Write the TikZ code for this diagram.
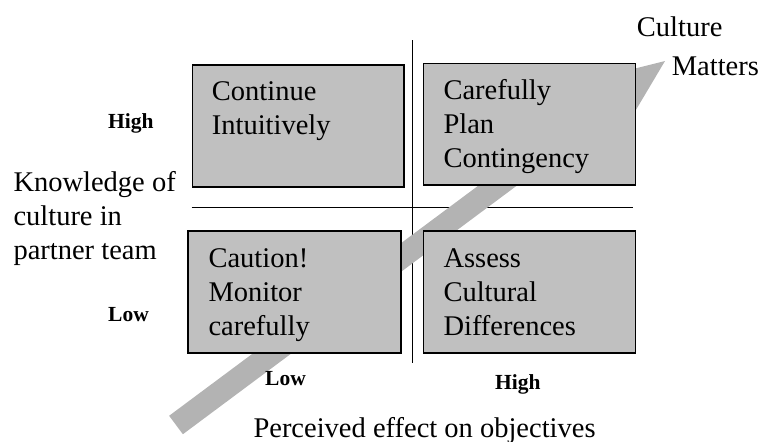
\documentclass[tikz,border=0pt]{standalone}
\usepackage{fontspec}
\setmainfont{Liberation Serif}
\usepackage{tikz}
\usetikzlibrary{positioning,calc}

\definecolor{boxgray}{HTML}{C0C0C0}
\definecolor{bandgray}{HTML}{B3B3B3}

\begin{document}
\begin{tikzpicture}[
        x=1pt, y=-1pt,
        quad/.style = {shape=rectangle, draw, fill=boxgray, line width=1.6pt,
                       anchor=north west, inner sep=0pt},
        quadtext/.style = {inner sep=0pt, anchor=north west, align=left,
                           font=\fontsize{28.5}{34}\selectfont},
        bigtext/.style = {inner sep=0pt, font=\fontsize{28.5}{34}\selectfont},
        level/.style = {inner sep=0pt, anchor=base west,
                        font=\fontsize{21.5}{24}\selectfont\bfseries},
        axis/.style = {line width=0.9pt}]
    \useasboundingbox (0,0) rectangle (761,442);

    \coordinate (vtop) at (412.7,40);
    \coordinate (vbot) at (412.7,363);
    \coordinate (hleft) at (191.7,207.7);
    \coordinate (hright) at (633,207.7);
    \draw[axis] (vtop) -- (vbot);
    \draw[axis] (hleft) -- (hright);

    % broad arrow running under the boxes
    \coordinate (tail) at (176,425);
    \coordinate (tip) at (665,61);
    \coordinate (neck) at ($(tip)!60pt!(tail)$);
    \fill[bandgray]
        ($(tail)!11.5pt!90:(tip)$)
        -- ($(neck)!11.5pt!-90:(tail)$)
        -- ($(neck)!25pt!-90:(tail)$)
        -- (tip)
        -- ($(neck)!25pt!90:(tail)$)
        -- ($(neck)!11.5pt!90:(tail)$)
        -- ($(tail)!11.5pt!-90:(tip)$)
        -- cycle;

    \node[quad, minimum width=211.6pt, minimum height=121.7pt] (tl) at (191.7,64.3) {};
    \node[quad, minimum width=212pt, minimum height=121.3pt] (tr) at (422.7,62.7) {};
    \node[quad, minimum width=212.7pt, minimum height=122pt] (bl) at (187.3,230) {};
    \node[quad, minimum width=212pt, minimum height=122pt] (br) at (422.7,230) {};

    \node[quadtext, below right=17pt and 20pt of tl.north west] (tltext) {Continue\\Intuitively};
    \node[quadtext, below right=16.5pt and 20.6pt of tr.north west] (trtext) {Carefully\\Plan\\Contingency};
    \node[quadtext, below right=18.5pt and 21pt of bl.north west] (bltext) {Caution!\\Monitor\\carefully};
    \node[quadtext, below right=18.5pt and 20.6pt of br.north west] (brtext) {Assess\\Cultural\\Differences};

    \node[level] (highy) at (108,128.3) {High};
    \node[level] (lowy) at (108,321) {Low};
    \node[level] (lowx) at (265,385) {Low};
    \node[level] (highx) at (495,389.3) {High};

    \node[bigtext, anchor=north west, align=left] (ylabel) at (13.3,171.2)
        {Knowledge of\\culture in\\partner team};
    \node[bigtext, anchor=base west] (xlabel) at (253.3,437) {Perceived effect on objectives};
    \node[bigtext, anchor=base west] (culture) at (636.7,36) {Culture};
    \node[bigtext, anchor=base west] (matters) at (671.7,75) {Matters};
\end{tikzpicture}
\end{document}
